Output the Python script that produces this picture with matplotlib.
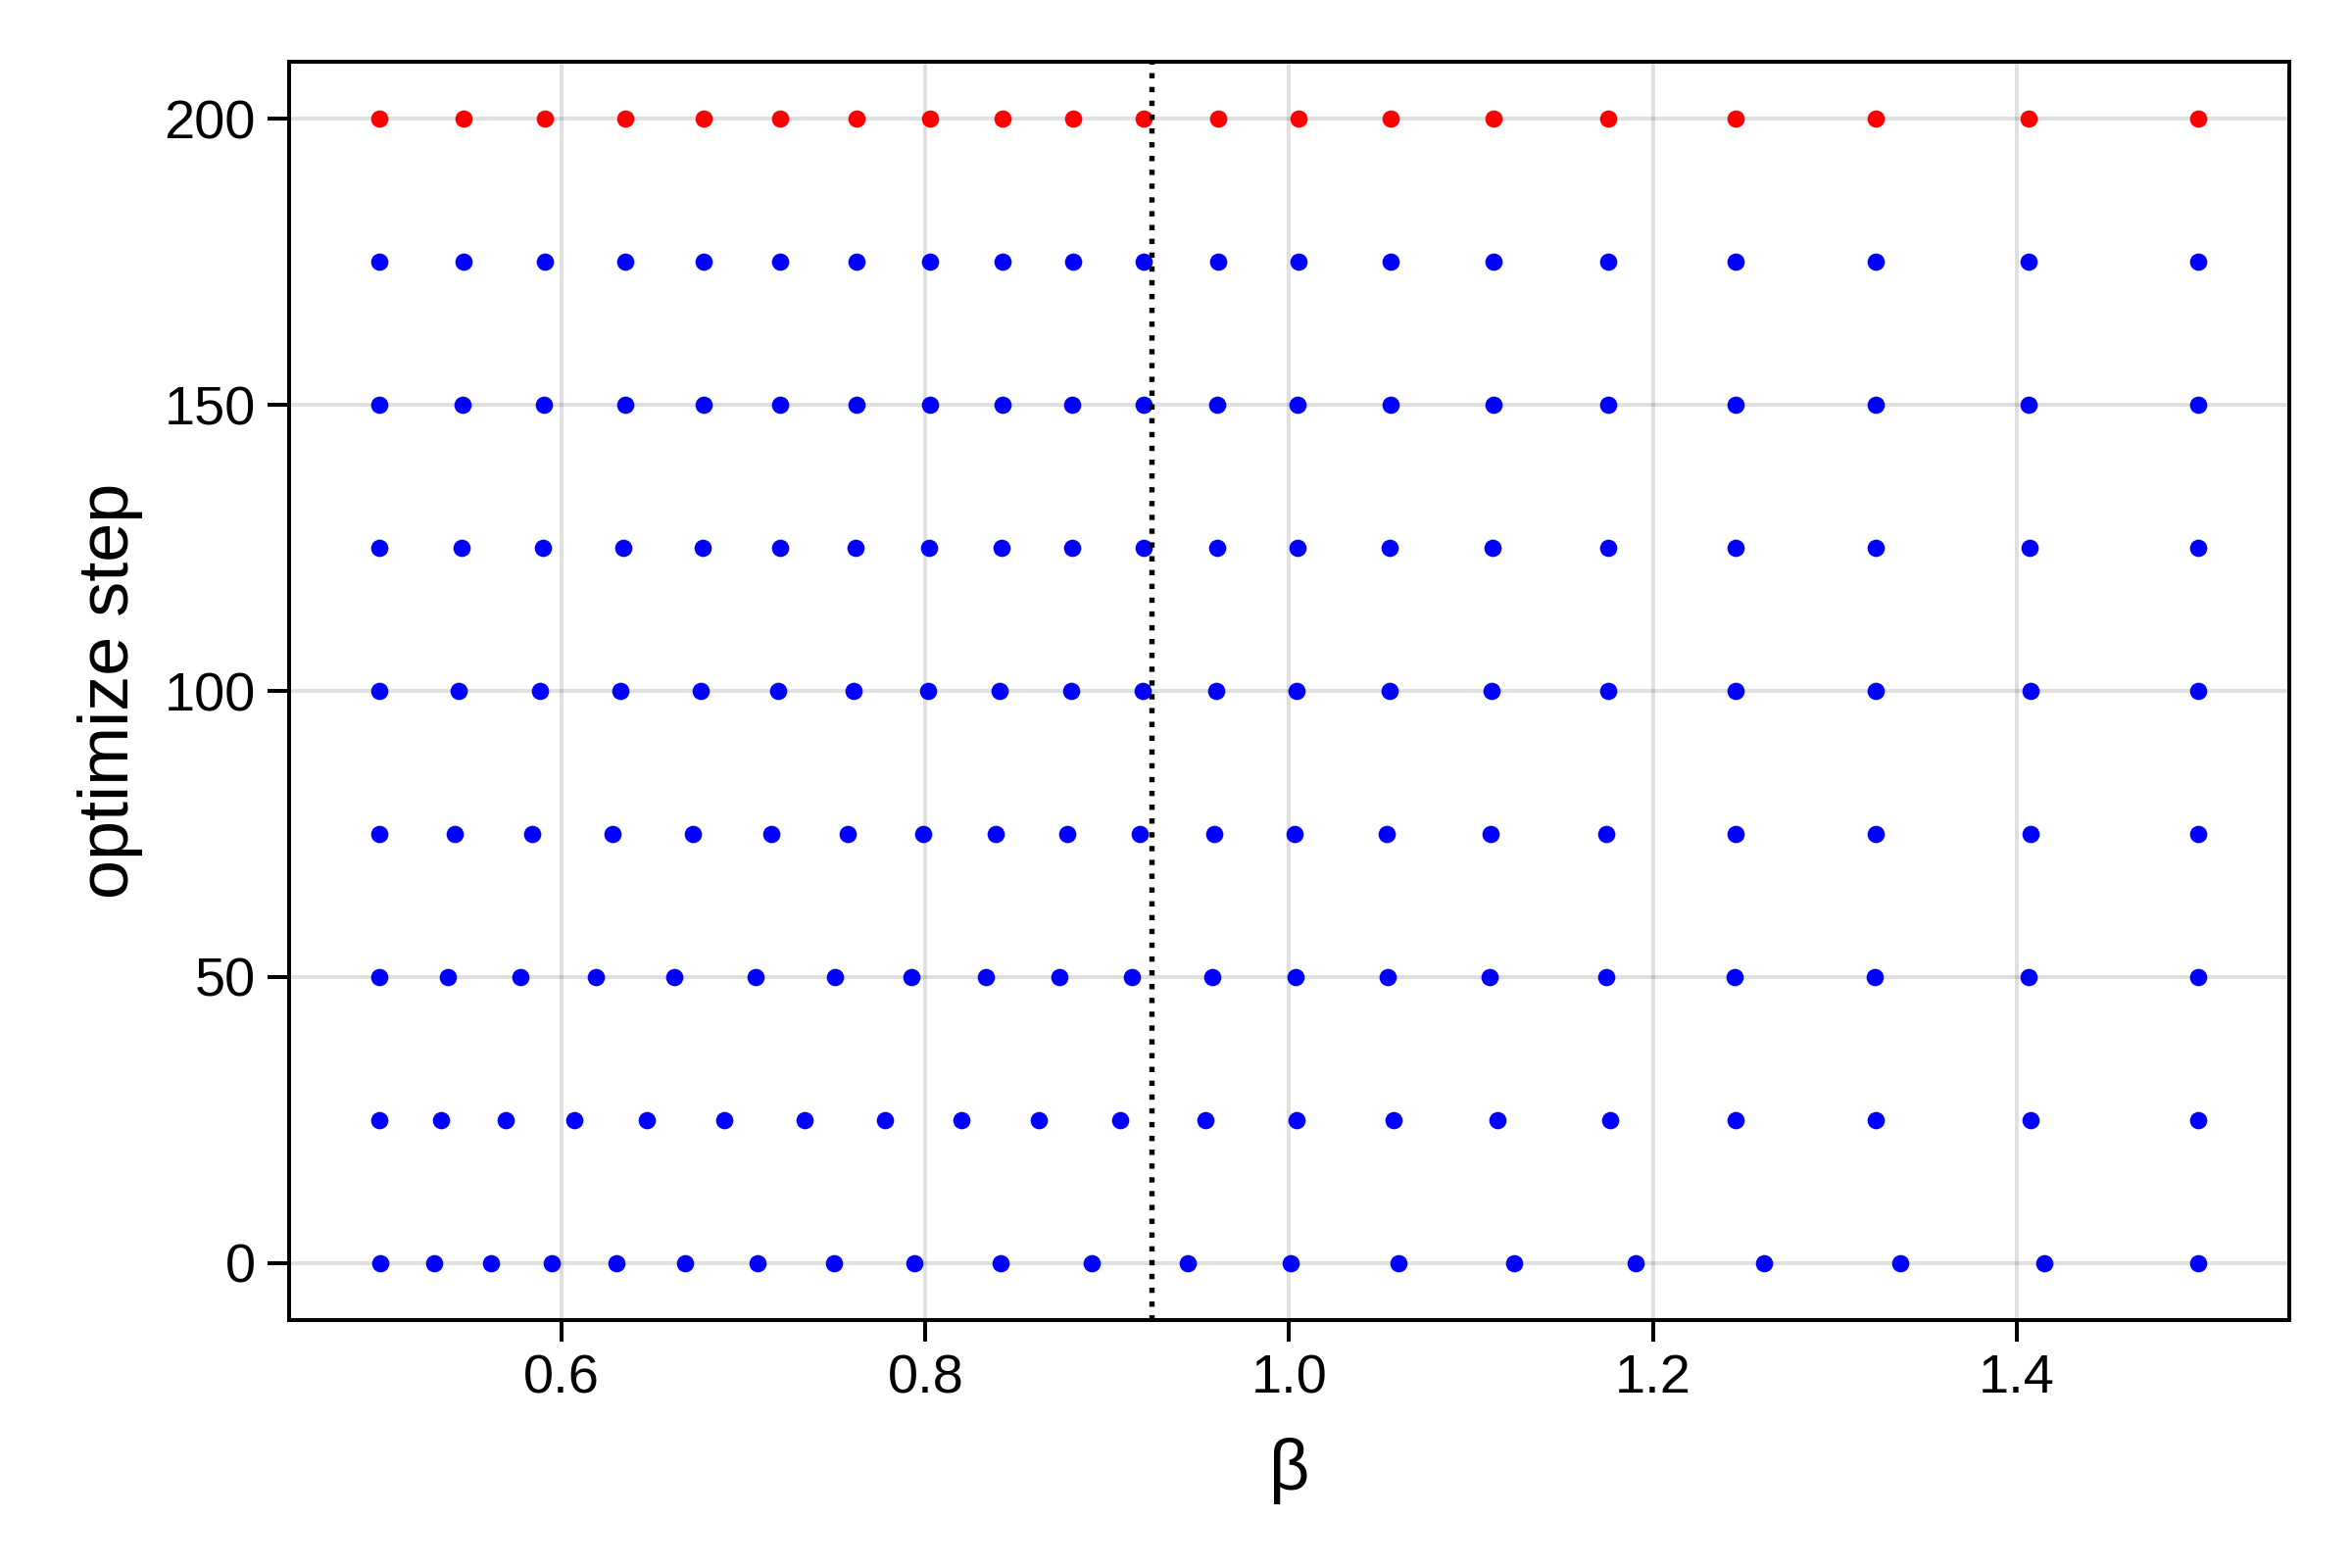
import numpy as np
import matplotlib.pyplot as plt

plt.rcParams['font.family'] = ['Liberation Sans', 'DejaVu Sans']

# optimize steps (rows) and the beta values of the points in each row
steps = [0, 25, 50, 75, 100, 125, 150, 175, 200]

beta_0 = [0.5002, 0.5299, 0.5612, 0.5946, 0.6302, 0.6679, 0.7074, 0.7497, 0.7940, 0.8412,
          0.8913, 0.9445, 1.0010, 1.0603, 1.1237, 1.1904, 1.2610, 1.3360, 1.4154, 1.4998]
beta_25 = [0.4998, 0.5336, 0.5693, 0.6069, 0.6469, 0.6893, 0.7336, 0.7779, 0.8198, 0.8621,
           0.9068, 0.9540, 1.0040, 1.0573, 1.1143, 1.1763, 1.2457, 1.3227, 1.4077, 1.4997]
beta_50 = [0.4998, 0.5375, 0.5772, 0.6185, 0.6621, 0.7064, 0.7504, 0.7921, 0.8331, 0.8734,
           0.9137, 0.9577, 1.0033, 1.0543, 1.1103, 1.1743, 1.2450, 1.3220, 1.4067, 1.4997]
beta_75 = [0.4998, 0.5412, 0.5838, 0.6278, 0.6721, 0.7154, 0.7574, 0.7987, 0.8387, 0.8780,
           0.9177, 0.9590, 1.0030, 1.0535, 1.1110, 1.1745, 1.2455, 1.3225, 1.4075, 1.5000]
beta_100 = [0.4998, 0.5435, 0.5881, 0.6324, 0.6764, 0.7187, 0.7607, 0.8013, 0.8410, 0.8800,
            0.9193, 0.9600, 1.0040, 1.0551, 1.1113, 1.1752, 1.2455, 1.3225, 1.4075, 1.5000]
beta_125 = [0.4998, 0.5450, 0.5897, 0.6340, 0.6775, 0.7198, 0.7616, 0.8022, 0.8419, 0.8807,
            0.9198, 0.9605, 1.0045, 1.0555, 1.1120, 1.1755, 1.2457, 1.3227, 1.4070, 1.4998]
beta_150 = [0.4998, 0.5455, 0.5903, 0.6347, 0.6778, 0.7201, 0.7619, 0.8025, 0.8422, 0.8809,
            0.9200, 0.9606, 1.0048, 1.0556, 1.1122, 1.1756, 1.2457, 1.3227, 1.4068, 1.4998]
beta_175 = [0.4998, 0.5457, 0.5906, 0.6349, 0.6780, 0.7203, 0.7620, 0.8026, 0.8423, 0.8810,
            0.9200, 0.9607, 1.0050, 1.0557, 1.1123, 1.1757, 1.2457, 1.3227, 1.4067, 1.4997]
beta_200 = [0.4998, 0.5458, 0.5907, 0.6350, 0.6780, 0.7203, 0.7620, 0.8026, 0.8423, 0.8810,
            0.9200, 0.9607, 1.0050, 1.0557, 1.1123, 1.1757, 1.2457, 1.3227, 1.4067, 1.4997]

beta_rows = [beta_0, beta_25, beta_50, beta_75, beta_100, beta_125, beta_150, beta_175, beta_200]

beta_c = 0.9244  # dotted vertical line

fig = plt.figure(figsize=(8, 16 / 3), dpi=300)
ax = fig.add_axes([0.1229, 0.158, 0.9733 - 0.1229, 0.9606 - 0.158])

for st, row in zip(steps, beta_rows):
    col = 'red' if st == steps[-1] else 'blue'
    ax.scatter(row, [st] * len(row), s=18, c=col, linewidths=0, zorder=3)

ax.axvline(beta_c, color='black', linestyle=(0, (1, 1.6)), linewidth=1.3, zorder=4)

ax.set_xlim(0.45, 1.55)
ax.set_ylim(-10, 210)
ax.set_xticks([0.6, 0.8, 1.0, 1.2, 1.4])
ax.set_yticks([0, 50, 100, 150, 200])
ax.grid(True, color='black', alpha=0.12, linewidth=0.96)
ax.set_axisbelow(True)

for sp in ax.spines.values():
    sp.set_linewidth(0.96)
ax.tick_params(which='major', direction='out', length=5.3, width=0.96, pad=2.9, labelsize=13.44)

ax.set_xlabel('β', fontsize=17.28, labelpad=8)
ax.set_ylabel('optimize step', fontsize=17.28, labelpad=5)

fig.savefig('out.png', dpi=300)
